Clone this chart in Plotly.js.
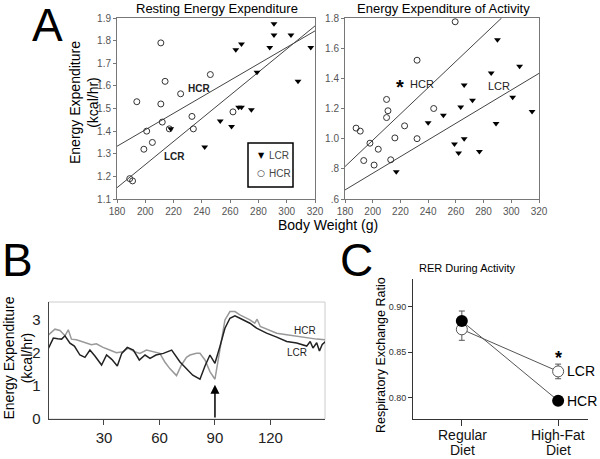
<!DOCTYPE html>
<html>
<head>
<meta charset="utf-8">
<script src="https://cdn.plot.ly/plotly-3.0.1.min.js"></script>
<style>html,body{margin:0;padding:0;background:#fff;}#chart{width:600px;height:459px;}</style>
</head>
<body>
<div id="chart"></div>
<script>
// ---------- Panel A: Resting energy expenditure ----------
const restWeightHCR = [189, 191, 194, 199, 201, 205, 211, 211, 212, 214, 217, 225, 233, 234, 246, 262];
const restEE_HCR    = [1.19, 1.18, 1.53, 1.32, 1.40, 1.35, 1.79, 1.52, 1.44, 1.62, 1.41, 1.565, 1.465, 1.41, 1.65, 1.485];
const restWeightLCR = [218, 242, 253, 261, 264, 266, 268, 268, 275, 279, 288, 291, 291, 303, 308, 317];
const restEE_LCR    = [1.41, 1.33, 1.445, 1.42, 1.76, 1.505, 1.505, 1.785, 1.495, 1.66, 1.77, 1.825, 1.875, 1.825, 1.62, 1.77];
const restFitX = [180, 320];
const restFitHCR = [1.333, 1.843];
const restFitLCR = [1.15, 1.865];

// ---------- Panel A: Energy expenditure of activity ----------
const actWeightHCR = [188, 191, 193.5, 198, 201, 204, 210, 211, 210, 213, 216, 223, 232, 232, 244, 259.5];
const actEE_HCR    = [1.07, 1.05, 0.855, 0.97, 0.825, 0.93, 1.26, 1.185, 1.14, 0.86, 1.005, 1.085, 1.52, 1.0, 1.2, 1.775];
const actWeightLCR = [217, 240, 251, 259, 262, 263.5, 266, 266, 272, 277, 285.5, 289, 290, 301, 306, 315];
const actEE_LCR    = [0.78, 1.105, 1.155, 0.965, 0.905, 1.21, 1.0, 1.355, 1.255, 0.915, 1.435, 1.1, 1.655, 1.275, 1.48, 1.18];
const actFitXHCR = [180, 293];
const actFitHCR  = [0.815, 1.80];
const actFitXLCR = [180, 320];
const actFitLCR  = [0.66, 1.433];

// ---------- Panel B: time course ----------
const timeLCR = [0, 2.6, 5, 7.1, 8.9, 11.6, 14, 17, 19.7, 22.4, 25.1, 28.7, 31.4, 34.2, 37.2, 39.6, 42.6, 45.9, 49.1, 52.2, 54.9, 58.1, 62.1, 66.6, 71.1, 74.7, 78, 81.9, 84.6, 87.3, 90, 92.7, 95.4, 98.1, 100.8, 103.5, 108.9, 112.5, 117.9, 123.4, 128.8, 134.2, 137, 139.6, 141.5, 143, 145, 146.5, 148, 150];
const eeLCR   = [2.14, 2.44, 2.42, 2.41, 2.51, 2.29, 2.2, 1.93, 1.86, 2.08, 1.9, 1.63, 1.93, 1.8, 1.6, 1.98, 2.16, 2.08, 1.78, 1.93, 1.83, 1.93, 1.98, 2.08, 1.72, 1.5, 1.32, 1.2, 1.6, 1.93, 1.68, 2.19, 2.74, 3.04, 3.11, 3.04, 2.89, 2.74, 2.59, 2.47, 2.34, 2.29, 2.24, 2.2, 2.34, 2.14, 2.3, 2.05, 2.25, 2.35];
const timeHCR = [0, 3.5, 6.2, 8.9, 10.7, 12.4, 15.1, 17.8, 20.5, 23.2, 25.9, 29.5, 33.1, 36.7, 40.3, 43, 46.6, 49.4, 53, 56.6, 60.2, 62.9, 65.6, 69.2, 71.9, 74.6, 76.5, 80, 81.9, 84.6, 87.3, 90, 91.8, 93.6, 95.4, 98.1, 100.8, 103.5, 108.9, 111.5, 112.8, 114.5, 117.9, 123.4, 128.8, 134.2, 139.6, 145, 150];
const eeHCR   = [2.54, 2.71, 2.67, 2.51, 2.69, 2.41, 2.39, 2.34, 2.31, 2.24, 2.27, 2.16, 2.08, 2.0, 2.03, 2.14, 2.03, 1.98, 2.08, 2.03, 1.98, 1.72, 1.52, 1.31, 1.63, 1.86, 1.93, 1.98, 1.98, 1.78, 1.43, 1.2, 1.78, 2.49, 2.99, 3.24, 3.24, 3.14, 2.99, 2.89, 3.01, 2.79, 2.71, 2.59, 2.54, 2.49, 2.44, 2.41, 2.39];

// ---------- Panel C: RER ----------
const dietCats = ['Regular Diet', 'High-Fat Diet'];
const rerHCR = [0.884, 0.797];
const rerHCRup = [0.011, 0.003];
const rerHCRdown = [0.003, 0.003];
const rerLCR = [0.875, 0.829];
const rerLCRup = [0.003, 0.008];
const rerLCRdown = [0.012, 0.008];

const FONT = 'Arial, "Liberation Sans", sans-serif';
const fitLine = {color: '#444', width: 1};

const traces = [
  {x: restFitX, y: restFitHCR, xaxis: 'x', yaxis: 'y', mode: 'lines', line: fitLine},
  {x: restFitX, y: restFitLCR, xaxis: 'x', yaxis: 'y', mode: 'lines', line: fitLine},
  {x: restWeightHCR, y: restEE_HCR, xaxis: 'x', yaxis: 'y', mode: 'markers',
   marker: {symbol: 'circle-open', size: 6, color: '#333', line: {width: 1}}},
  {x: restWeightLCR, y: restEE_LCR, xaxis: 'x', yaxis: 'y', mode: 'markers',
   marker: {symbol: 'triangle-down', size: 6, color: '#000'}},
  {x: actFitXHCR, y: actFitHCR, xaxis: 'x2', yaxis: 'y2', mode: 'lines', line: fitLine},
  {x: actFitXLCR, y: actFitLCR, xaxis: 'x2', yaxis: 'y2', mode: 'lines', line: fitLine},
  {x: actWeightHCR, y: actEE_HCR, xaxis: 'x2', yaxis: 'y2', mode: 'markers',
   marker: {symbol: 'circle-open', size: 6, color: '#333', line: {width: 1}}},
  {x: actWeightLCR, y: actEE_LCR, xaxis: 'x2', yaxis: 'y2', mode: 'markers',
   marker: {symbol: 'triangle-down', size: 6, color: '#000'}},
  {x: timeHCR, y: eeHCR, xaxis: 'x3', yaxis: 'y3', mode: 'lines', line: {color: '#999', width: 1.5}},
  {x: timeLCR, y: eeLCR, xaxis: 'x3', yaxis: 'y3', mode: 'lines', line: {color: '#222', width: 1.5}},
  {x: dietCats, y: rerLCR, xaxis: 'x4', yaxis: 'y4', mode: 'lines+markers',
   line: {color: '#555', width: 1},
   marker: {symbol: 'circle', size: 11, color: '#fff', line: {color: '#555', width: 1}},
   error_y: {type: 'data', symmetric: false, array: rerLCRup, arrayminus: rerLCRdown, color: '#555', thickness: 1, width: 3}},
  {x: dietCats, y: rerHCR, xaxis: 'x4', yaxis: 'y4', mode: 'lines+markers',
   line: {color: '#555', width: 1},
   marker: {symbol: 'circle', size: 12, color: '#000'},
   error_y: {type: 'data', symmetric: false, array: rerHCRup, arrayminus: rerHCRdown, color: '#555', thickness: 1, width: 3}}
];

const W = 600, H = 459;
const dx = (a, b) => [a / W, b / W];
const dy = (top, bottom) => [1 - bottom / H, 1 - top / H];

const axA = {
  showline: true, mirror: true, linecolor: '#777', linewidth: 1, showgrid: false, zeroline: false,
  ticks: 'outside', ticklen: 3, tickcolor: '#777', tickfont: {family: FONT, size: 10, color: '#555'}
};

function ptxt(text, px, py, size, extra) {
  return Object.assign({text: text, x: px / W, y: 1 - py / H, xref: 'paper', yref: 'paper',
    xanchor: 'center', yanchor: 'middle', showarrow: false, font: {size: size, family: FONT, color: '#000'}}, extra || {});
}

const annotations = [
  ptxt('A', 47, 25, 46),
  ptxt('B', 17, 260, 46),
  ptxt('C', 356, 260, 46),
  ptxt('Resting Energy Expenditure', 217, 8.5, 13),
  ptxt('Energy Expenditure of Activity', 443, 8.5, 13),
  ptxt('Energy Expenditure<br>(kcal/hr)', 84, 103, 14, {textangle: -90}),
  ptxt('Body Weight (g)', 328, 225, 14),
  ptxt('Energy Expenditure<br>(kcal/hr)', 17.5, 358, 14, {textangle: -90}),
  ptxt('RER During Activity', 467, 268, 11),
  ptxt('Respiratory Exchange Ratio', 381, 355, 12.5, {textangle: -90}),
  ptxt('▼', 261, 155, 8, {font: {size: 8, family: 'DejaVu Sans', color: '#000'}}),
  ptxt('LCR', 267, 155, 10, {xanchor: 'left', font: {size: 10, family: FONT, color: '#444'}}),
  ptxt('○', 261, 173, 9, {font: {size: 9, family: 'DejaVu Sans', color: '#333'}}),
  ptxt('HCR', 267, 173, 10, {xanchor: 'left', font: {size: 10, family: FONT, color: '#444'}}),
  ptxt(dietCats[0].split(' ')[0], 462, 435, 14, {font: {size: 14, family: FONT, color: '#111'}}),
  ptxt(dietCats[0].split(' ')[1], 462, 450, 14, {font: {size: 14, family: FONT, color: '#111'}}),
  ptxt(dietCats[1].split(' ')[0], 558, 435, 14, {font: {size: 14, family: FONT, color: '#111'}}),
  ptxt(dietCats[1].split(' ')[1], 558, 450, 14, {font: {size: 14, family: FONT, color: '#111'}}),
  {text: '<b>HCR</b>', x: 238, y: 1.59, xref: 'x', yref: 'y', showarrow: false, font: {size: 10, family: FONT, color: '#222'}},
  {text: '<b>LCR</b>', x: 220.5, y: 1.29, xref: 'x', yref: 'y', showarrow: false, font: {size: 10, family: FONT, color: '#222'}},
  {text: '<b>*</b>', x: 220, y: 1.345, xref: 'x2', yref: 'y2', showarrow: false, font: {size: 20, family: FONT}},
  {text: 'HCR', x: 225.5, y: 1.36, xref: 'x2', yref: 'y2', xanchor: 'left', showarrow: false, font: {size: 11, family: FONT, color: '#222'}},
  {text: 'LCR', x: 291, y: 1.35, xref: 'x2', yref: 'y2', showarrow: false, font: {size: 11, family: FONT, color: '#222'}},
  {text: 'HCR', x: 138.5, y: 2.68, xref: 'x3', yref: 'y3', showarrow: false, font: {size: 10, family: FONT, color: '#222'}},
  {text: 'LCR', x: 134.5, y: 2.0, xref: 'x3', yref: 'y3', showarrow: false, font: {size: 10, family: FONT, color: '#222'}},
  {text: '', x: 90, y: 1.03, ax: 90, ay: 0, xref: 'x3', yref: 'y3', axref: 'x3', ayref: 'y3', showarrow: true,
   arrowhead: 2, arrowsize: 1.2, arrowwidth: 1.5, arrowcolor: '#000'},
  {text: 'LCR', x: 1, y: 0.829, xref: 'x4', yref: 'y4', xanchor: 'left', xshift: 7, showarrow: false, font: {size: 14, family: FONT}},
  {text: 'HCR', x: 1, y: 0.797, xref: 'x4', yref: 'y4', xanchor: 'left', xshift: 7, showarrow: false, font: {size: 14, family: FONT}},
  {text: '<b>*</b>', x: 1, y: 0.844, xref: 'x4', yref: 'y4', showarrow: false, font: {size: 18, family: FONT}}
];

const layout = {
  width: W, height: H, margin: {l: 0, r: 0, t: 0, b: 0},
  paper_bgcolor: '#fff', plot_bgcolor: 'rgba(0,0,0,0)',
  font: {family: FONT, color: '#000'},
  showlegend: false,
  xaxis: Object.assign({}, axA, {domain: dx(117, 315), range: [180, 320], tickvals: [180,200,220,240,260,280,300,320], anchor: 'y'}),
  yaxis: Object.assign({}, axA, {domain: dy(18, 199), range: [1.1, 1.9], tickvals: [1.1,1.2,1.3,1.4,1.5,1.6,1.7,1.8,1.9], ticktext: ['1.1','1.2','1.3','1.4','1.5','1.6','1.7','1.8','1.9'], anchor: 'x'}),
  xaxis2: Object.assign({}, axA, {domain: dx(345, 539), range: [180, 320], tickvals: [180,200,220,240,260,280,300,320], anchor: 'y2'}),
  yaxis2: Object.assign({}, axA, {domain: dy(18, 199), range: [0.6, 1.8], tickvals: [0.6,0.8,1.0,1.2,1.4,1.6,1.8], ticktext: ['.6','.8','1.0','1.2','1.4','1.6','1.8'], anchor: 'x2'}),
  xaxis3: {domain: dx(48.5, 325), range: [0, 149.5], tickvals: [30, 60, 90, 120], showline: true, linecolor: '#444', linewidth: 1,
           ticks: 'outside', ticklen: 5, tickcolor: '#444', showgrid: false, zeroline: false, anchor: 'y3',
           tickfont: {family: FONT, size: 15, color: '#222'}},
  yaxis3: {domain: dy(302, 419), range: [0, 3.53], tickvals: [0, 1, 2, 3], showline: true, linecolor: '#444', linewidth: 1,
           ticks: '', showgrid: false, zeroline: false, anchor: 'x3', ticklabelstandoff: 4,
           tickfont: {family: FONT, size: 15, color: '#222'}},
  xaxis4: {domain: dx(413, 588), type: 'category', range: [-0.507, 1.31], showline: true, linecolor: '#333', linewidth: 1,
           ticks: 'outside', ticklen: 6, tickcolor: '#333', showgrid: false, zeroline: false, anchor: 'y4',
           showticklabels: false},
  yaxis4: {domain: dy(279, 419), range: [0.777, 0.930], tickvals: [0.80, 0.85, 0.90], ticktext: ['0.80','0.85','0.90'],
           showline: true, linecolor: '#333', linewidth: 1, ticks: 'outside', ticklen: 4, tickcolor: '#333',
           showgrid: false, zeroline: false, anchor: 'x4', tickfont: {family: FONT, size: 9, color: '#333'}},
  shapes: [
    {type: 'rect', xref: 'x3 domain', yref: 'y3 domain', x0: 0, x1: 1, y0: 0, y1: 1, line: {color: '#ccc', width: 1}, layer: 'below'},
    {type: 'rect', xref: 'paper', yref: 'paper', x0: 248 / W, x1: 293 / W, y0: 1 - 187 / H, y1: 1 - 143 / H, line: {color: '#000', width: 1.5}, fillcolor: '#fff'}
  ],
  annotations: annotations
};

Plotly.newPlot('chart', traces.map(t => Object.assign({showlegend: false}, t)), layout, {staticPlot: true, displayModeBar: false});
</script>
</body>
</html>
